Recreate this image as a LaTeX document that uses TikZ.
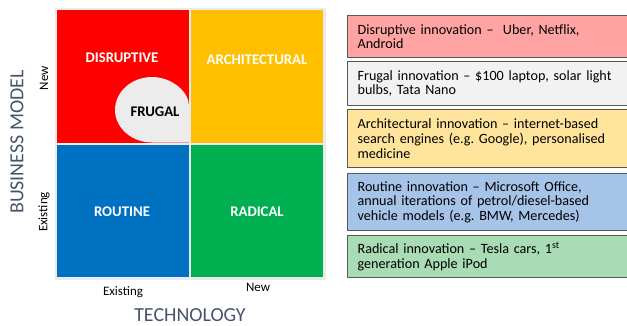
\documentclass[tikz,border=0pt]{standalone}
\usepackage{fontspec}
\setmainfont{Carlito}
\frenchspacing
\definecolor{qred}{HTML}{FF0000}
\definecolor{qorange}{HTML}{FFC000}
\definecolor{qblue}{HTML}{0070C0}
\definecolor{qgreen}{HTML}{00B050}
\definecolor{framegray}{HTML}{EBEBEB}
\definecolor{frugalgray}{HTML}{EDECEC}
\definecolor{axisblue}{HTML}{44546A}
\definecolor{boxgray}{HTML}{595959}
\definecolor{boxred}{HTML}{FFA3A3}
\definecolor{boxgray2}{HTML}{F2F2F2}
\definecolor{boxyellow}{HTML}{FFE49C}
\definecolor{boxblue}{HTML}{A6C3E8}
\definecolor{boxgreen}{HTML}{A9DCB5}

\begin{document}
\begin{tikzpicture}[line cap=round,line join=round,x=1bp,y=-1bp,
  quad/.style={inner sep=0pt,minimum width=131.5bp,minimum height=132.5bp},
  qlabel/.style={text=white,font=\fontsize{14.8}{17}\selectfont\bfseries},
  axlabel/.style={font=\fontsize{13}{15}\selectfont},
  axtitle/.style={text=axisblue,font=\fontsize{20}{24}\selectfont},
  infobox/.style={draw=boxgray,line width=1.2bp,anchor=north west,minimum width=284bp,text width=264bp,inner xsep=10bp,inner ysep=1bp,align=left,font=\fontsize{14.2}{14.8}\selectfont}]
\useasboundingbox (0,0) rectangle (627,325);
\clip (0,0) rectangle (627,325);
% matrix
\fill[framegray] (55,8) rectangle (325.5,279.5);
\node[quad,fill=qred] (disruptive) at (122.75,76.25) {};
\node[quad,fill=qorange] (architectural) at (256.75,76.25) {};
\node[quad,fill=qblue] (routine) at (122.75,210.75) {};
\node[quad,fill=qgreen] (radical) at (256.75,210.75) {};
\fill[frugalgray] (189,142.5) -- (152,142.5)
  .. controls (131.6,142.5) and (115,127.7) .. (115,110)
  .. controls (115,91.8) and (131.6,77) .. (152,77)
  .. controls (171.9,77) and (189,91.8) .. (189,106) -- cycle;
\node[qlabel] (disruptivetxt) at (122,58) {DISRUPTIVE};
\node[qlabel] (architecturaltxt) at (257,60) {ARCHITECTURAL};
\node[qlabel] (routinetxt) at (122,212) {ROUTINE};
\node[qlabel] (radicaltxt) at (257,212) {RADICAL};
\node[qlabel,text=black] (frugal) at (155,112) {FRUGAL};
% axes
\node[axlabel,rotate=90] (bmnew) at (44,78) {New};
\node[axlabel,rotate=90] (bmexisting) at (44,212) {Existing};
\node[axtitle,rotate=90] (bm) at (17,142) {BUSINESS MODEL};
\node[axlabel] (techexisting) at (123,292) {Existing};
\node[axlabel] (technew) at (258,287) {New};
\node[axtitle] (tech) at (190,315) {TECHNOLOGY};
% examples
\node[infobox,fill=boxred,minimum height=42bp] (boxdisruptive) at (347,15)
  {Disruptive innovation – ~Uber, Netflix,\\Android};
\node[infobox,fill=boxgray2,minimum height=44bp] (boxfrugal) at (347,61)
  {Frugal innovation – \$100 laptop, solar light\\bulbs, Tata Nano};
\node[infobox,fill=boxyellow,minimum height=58bp] (boxarchitectural) at (347,109)
  {Architectural innovation – internet-based\\search engines (e.g. Google), personalised\\medicine};
\node[infobox,fill=boxblue,minimum height=57bp] (boxroutine) at (347,173)
  {Routine innovation – Microsoft Office,\\annual iterations of petrol/diesel-based\\vehicle models (e.g. BMW, Mercedes)};
\node[infobox,fill=boxgreen,minimum height=42bp] (boxradical) at (347,235)
  {Radical innovation – Tesla cars, 1\textsuperscript{st}\\generation Apple iPod};
\end{tikzpicture}
\end{document}
